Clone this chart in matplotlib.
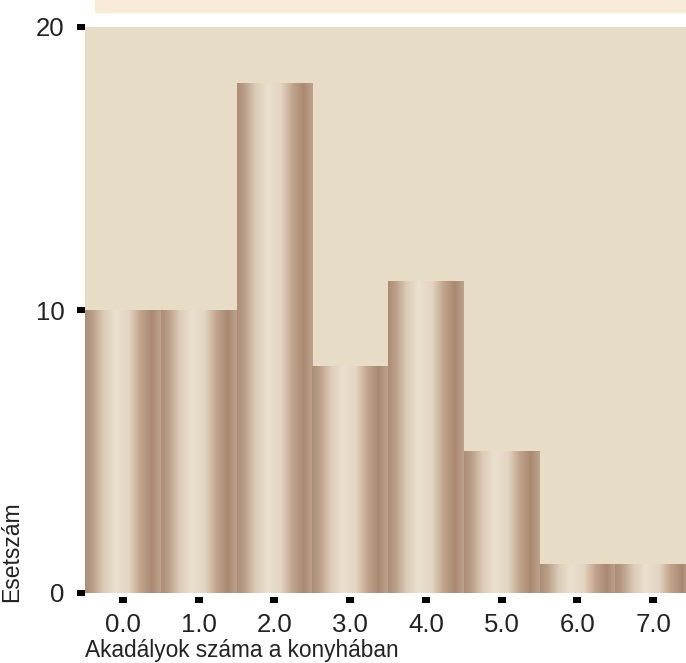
import numpy as np
import matplotlib
matplotlib.use("Agg")
import matplotlib.pyplot as plt
from matplotlib.colors import LinearSegmentedColormap
from matplotlib.patches import Rectangle

plt.rcParams['font.family'] = ['Liberation Sans', 'DejaVu Sans']

# data
obstacles = [0, 1, 2, 3, 4, 5, 6, 7]
counts = [10, 10, 18, 8, 11, 5, 1, 1]
xtick_labels = ["0.0", "1.0", "2.0", "3.0", "4.0", "5.0", "6.0", "7.0"]
yticks = [0, 10, 20]

W, H = 686, 663
fig = plt.figure(figsize=(W / 100, H / 100), dpi=100)

# lighter band at the very top (cut title area)
fig.patches.append(Rectangle((95 / W, 1 - 12 / H), 1 - 95 / W, 12 / H,
                             transform=fig.transFigure, color="#f8ebd8", zorder=0))

left, right = 85, 686
top, bottom = 27, 593
ax = fig.add_axes([left / W, 1 - bottom / H, (right - left) / W, (bottom - top) / H])
ax.set_facecolor("#e7ddc7")

# cylindrical shading for each bar
stops = [
    (0.00, (172, 140, 118)),
    (0.10, (186, 158, 136)),
    (0.25, (220, 204, 184)),
    (0.40, (235, 223, 206)),
    (0.58, (228, 213, 194)),
    (0.74, (192, 162, 138)),
    (0.88, (170, 137, 113)),
    (1.00, (188, 162, 140)),
]
cmap = LinearSegmentedColormap.from_list(
    "cyl", [(p, tuple(c / 255 for c in rgb)) for p, rgb in stops])
grad = np.linspace(0, 1, 256).reshape(1, -1)

for x, h in zip(obstacles, counts):
    ax.imshow(grad, cmap=cmap, aspect="auto", extent=(x - 0.5, x + 0.5, 0, h),
              interpolation="bilinear", zorder=2)

ax.set_xlim(-0.5, 7.5 - 5 / 75.7)
ax.set_ylim(0, 20)

for s in ax.spines.values():
    s.set_visible(False)
ax.spines['bottom'].set_position(('outward', 2.9))

ax.set_xticks(obstacles)
ax.set_xticklabels(xtick_labels)
ax.set_yticks(yticks)
ax.tick_params(axis='x', direction='out', length=4.3, width=5.8, color='black',
               labelsize=18.5, pad=7, labelcolor='#222222')
ax.tick_params(axis='y', direction='out', length=5.8, width=4.3, color='black',
               labelsize=18.5, pad=9, labelcolor='#222222')

fig.text(85 / W, 1 - 657 / H, "Akadályok száma a konyhában", fontsize=16.3,
         ha='left', va='baseline', color='#222222')
fig.text(23 / W, 1 - 602 / H, "Esetszám", fontsize=16.5, rotation=90,
         ha='right', va='bottom', color='#222222')

fig.savefig("out.png", dpi=100)
